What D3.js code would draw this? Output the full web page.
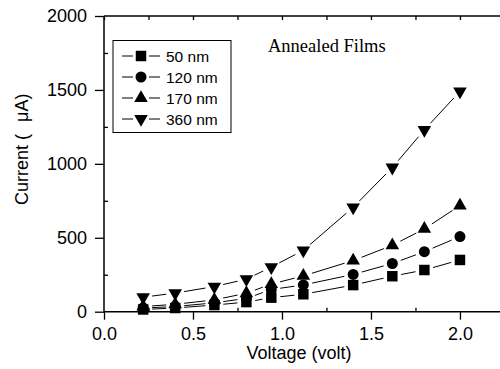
<!DOCTYPE html>
<html><head><meta charset="utf-8">
<script src="https://cdn.jsdelivr.net/npm/d3@7"></script>
<style>body{margin:0;background:#fff}svg{display:block}</style>
</head><body>
<svg id="c" width="500" height="369"></svg>
<script>
const voltages = [0.22, 0.40, 0.62, 0.80, 0.94, 1.12, 1.40, 1.62, 1.80, 2.00];
const seriesNames = ["50 nm", "120 nm", "170 nm", "360 nm"];
const s50  = [15, 25, 45, 65, 95, 118, 180, 240, 282, 350];
const s120 = [25, 35, 60, 90, 150, 181, 252, 326, 406, 508];
const s170 = [35, 50, 80, 125, 187, 242, 346, 449, 560, 718];
const s360 = [98, 126, 170, 220, 302, 415, 706, 975, 1230, 1490];
const xTicks = [0, 0.5, 1.0, 1.5, 2.0];
const xMinor = [0.25, 0.75, 1.25, 1.75];
const yTicks = [0, 500, 1000, 1500, 2000];
const yMinor = [250, 750, 1250, 1750];
const symbolTypes = [d3.symbolSquare, d3.symbolCircle, d3.symbolTriangle, "down"];

const svg = d3.select("#c");
const x = d3.scaleLinear().domain([0, 2.225]).range([104, 500]);
const y = d3.scaleLinear().domain([0, 2000]).range([311.7, 16]);
const font = "'Liberation Sans', Arial, sans-serif";

function marker(g, type, cx, cy) {
  if (type === "down") {
    const p = d3.symbol().type(d3.symbolTriangle).size(80)();
    g.append("path").attr("d", p).attr("transform", `translate(${cx},${cy}) rotate(180)`).attr("fill", "#000");
  } else {
    const size = type === d3.symbolSquare ? 110 : (type === d3.symbolCircle ? 95 : 80);
    g.append("path").attr("d", d3.symbol().type(type).size(size)()).attr("transform", `translate(${cx},${cy})`).attr("fill", "#000");
  }
}

// axes
const axStroke = 1.5;
const gx = svg.append("g").attr("transform", `translate(0,${y(0)})`)
  .call(d3.axisBottom(x).tickValues(xTicks).tickFormat(d3.format(".1f")).tickSize(8).tickPadding(8));
gx.select(".domain").remove();
svg.append("g").attr("transform", `translate(0,${y(0)})`)
  .call(d3.axisBottom(x).tickValues(xMinor).tickFormat("").tickSize(-4)).select(".domain").remove();
svg.append("g").attr("transform", `translate(0,${y(2000)})`)
  .call(d3.axisTop(x).tickValues(xTicks.concat(xMinor)).tickFormat("").tickSize(-4)).select(".domain").remove();

const gy = svg.append("g").attr("transform", `translate(${x(0)},0)`)
  .call(d3.axisLeft(y).tickValues(yTicks).tickFormat(d3.format("d")).tickSize(9).tickPadding(8));
gy.select(".domain").remove();
svg.append("g").attr("transform", `translate(${x(0)},0)`)
  .call(d3.axisLeft(y).tickValues(yMinor).tickFormat("").tickSize(-4)).select(".domain").remove();

svg.selectAll(".tick line").attr("stroke", "#000").attr("stroke-width", 1.3);
svg.selectAll(".tick text").attr("font-family", font).attr("font-size", 18).attr("fill", "#000");

// frame lines
svg.append("line").attr("x1", x(0)).attr("x2", 500).attr("y1", y(0)).attr("y2", y(0)).attr("stroke", "#000").attr("stroke-width", axStroke);
svg.append("line").attr("x1", x(0)).attr("x2", 500).attr("y1", y(2000)).attr("y2", y(2000)).attr("stroke", "#000").attr("stroke-width", axStroke);
svg.append("line").attr("x1", x(0)).attr("x2", x(0)).attr("y1", y(0)).attr("y2", y(2000)).attr("stroke", "#000").attr("stroke-width", axStroke);

// data
const allSeries = [s50, s120, s170, s360];
const gap = 9;
allSeries.forEach((vals, si) => {
  const g = svg.append("g");
  const pts = voltages.map((v, i) => [x(v), y(vals[i])]);
  for (let i = 0; i < pts.length - 1; i++) {
    const [x1, y1] = pts[i], [x2, y2] = pts[i + 1];
    const dx = x2 - x1, dy = y2 - y1, L = Math.hypot(dx, dy);
    if (L <= 2 * gap) continue;
    const ux = dx / L, uy = dy / L;
    g.append("line").attr("x1", x1 + ux * gap).attr("y1", y1 + uy * gap)
      .attr("x2", x2 - ux * gap).attr("y2", y2 - uy * gap)
      .attr("stroke", "#000").attr("stroke-width", 1);
  }
  pts.forEach(([cx, cy]) => marker(g, symbolTypes[si], cx, cy));
});

// legend
const lg = svg.append("g");
lg.append("rect").attr("x", 113).attr("y", 40.5).attr("width", 118).attr("height", 92)
  .attr("fill", "#fff").attr("stroke", "#000").attr("stroke-width", 1);
seriesNames.forEach((name, i) => {
  const cy = 56 + i * 21;
  lg.append("line").attr("x1", 122).attr("x2", 133).attr("y1", cy).attr("y2", cy).attr("stroke", "#000");
  lg.append("line").attr("x1", 149).attr("x2", 160).attr("y1", cy).attr("y2", cy).attr("stroke", "#000");
  marker(lg, symbolTypes[i], 141, cy);
  lg.append("text").attr("x", 166).attr("y", cy + 5.5).text(name)
    .attr("font-family", font).attr("font-size", 15.5).attr("fill", "#000");
});

// annotation
svg.append("text").attr("x", 268).attr("y", 52).text("Annealed Films")
  .attr("font-family", "'Liberation Serif', 'Times New Roman', serif").attr("font-size", 18.5).attr("fill", "#000");

// axis titles
svg.append("text").attr("x", 299).attr("y", 359).attr("text-anchor", "middle").text("Voltage (volt)")
  .attr("font-family", font).attr("font-size", 18).attr("fill", "#000");
const yt = svg.append("text").attr("transform", `translate(28,205) rotate(-90)`)
  .attr("font-family", font).attr("font-size", 18).attr("fill", "#000");
yt.append("tspan").text("Current (");
yt.append("tspan").attr("dx", 12).text("μA)");
</script>
</body></html>
